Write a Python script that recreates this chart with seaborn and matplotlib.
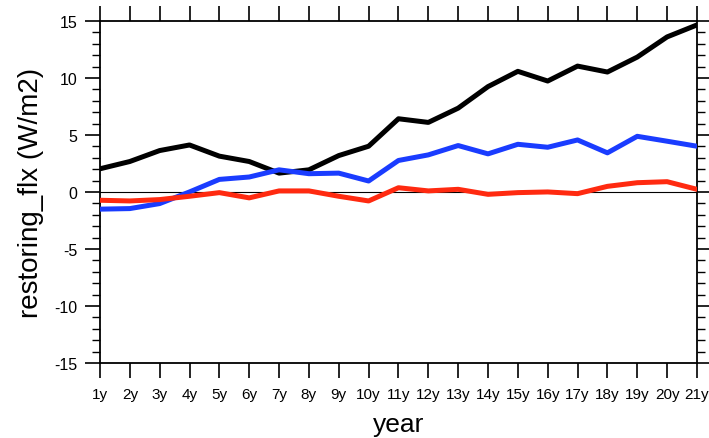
import numpy as np
import pandas as pd
import matplotlib
matplotlib.use("Agg")
import matplotlib.pyplot as plt
import seaborn as sns
from matplotlib.ticker import MultipleLocator

years = [f"{i}y" for i in range(1, 22)]
total = [2.03, 2.67, 3.63, 4.12, 3.14, 2.67, 1.65, 1.94, 3.19, 4.01, 6.42,
         6.10, 7.35, 9.24, 10.58, 9.73, 11.04, 10.52, 11.83, 13.6, 14.65]
part_a = [-1.51, -1.46, -1.02, 0.0, 1.10, 1.31, 1.94, 1.60, 1.65, 0.96, 2.76,
          3.25, 4.07, 3.34, 4.18, 3.92, 4.56, 3.43, 4.88, 4.45, 4.01]
part_b = [-0.73, -0.79, -0.67, -0.38, -0.06, -0.52, 0.09, 0.09, -0.38, -0.79, 0.37,
          0.09, 0.23, -0.21, -0.06, 0.0, -0.15, 0.49, 0.81, 0.90, 0.23]

series_names = ["total", "a", "b"]
series_colors = ["black", "#1a3cff", "#ff2a10"]

df = pd.DataFrame({
    "idx": list(range(len(years))) * 3,
    "value": total + part_a + part_b,
    "series": np.repeat(series_names, len(years)),
})

sns.set_style("white")
plt.rcParams["font.family"] = ["Liberation Sans", "DejaVu Sans"]
plt.rcParams["axes.unicode_minus"] = False
plt.rcParams["text.color"] = "black"
plt.rcParams["axes.labelcolor"] = "black"
plt.rcParams["xtick.color"] = "black"
plt.rcParams["ytick.color"] = "black"

fig = plt.figure(figsize=(7.09, 4.39), dpi=100)
ax = fig.add_axes([0.141, 0.171, 0.842, 0.779])

ax.axhline(0, color="black", lw=0.8, zorder=1)
sns.lineplot(data=df, x="idx", y="value", hue="series", hue_order=series_names,
             palette=series_colors, linewidth=3.6, legend=False, ax=ax, zorder=3)

ax.set_xlim(0, len(years) - 1)
ax.set_ylim(-15, 15)
ax.set_xticks(range(len(years)))
ax.set_xticklabels(years)
ax.yaxis.set_major_locator(MultipleLocator(5))
ax.yaxis.set_minor_locator(MultipleLocator(1))

for s in ax.spines.values():
    s.set_visible(True)
    s.set_color("black")
    s.set_linewidth(1.3)

ax.tick_params(axis="both", which="major", direction="out", length=11, width=1.2,
               colors="black", labelsize=11.5, top=True, right=True,
               bottom=True, left=True,
               labeltop=False, labelright=False, pad=5)
ax.tick_params(axis="y", which="minor", direction="out", length=6, width=1.0,
               color="black", left=True, right=True)
ax.tick_params(axis="x", labelsize=11, pad=6)

ax.set_xlabel("year", fontsize=19, labelpad=8)
ax.set_ylabel("restoring_flx (W/m2)", fontsize=20, labelpad=8)

fig.savefig("out.png", dpi=100)
